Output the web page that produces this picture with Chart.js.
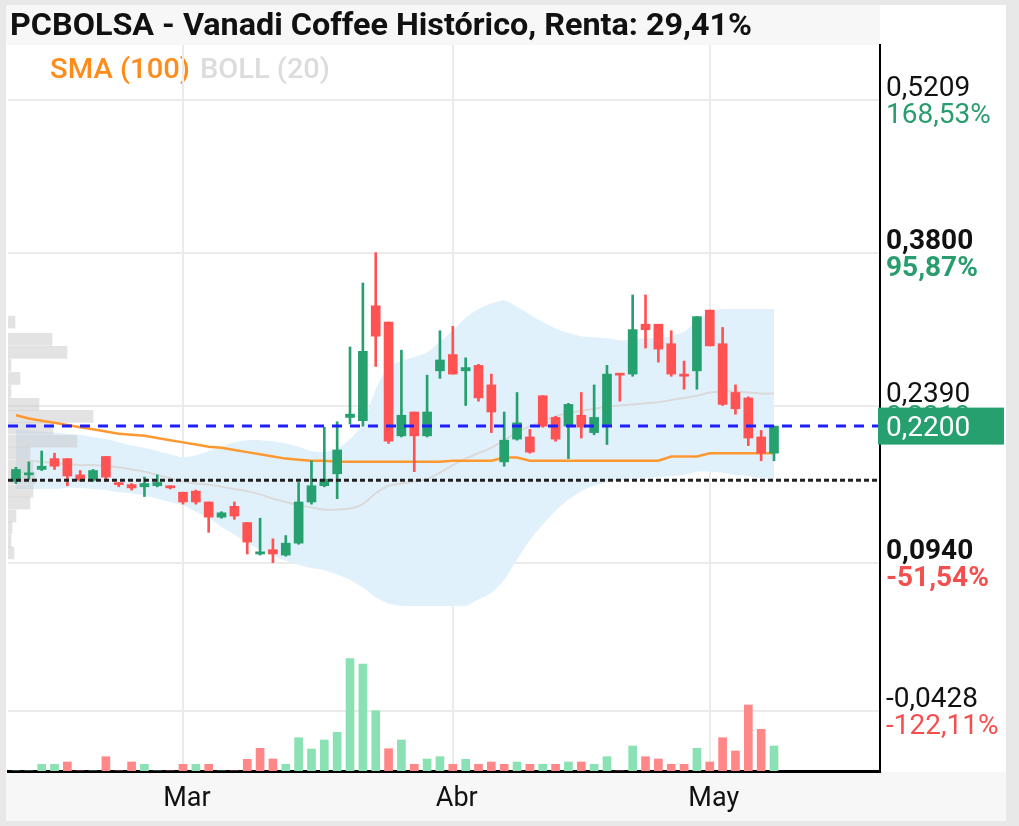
<!DOCTYPE html>
<html><head><meta charset="utf-8">
<script src="https://cdn.jsdelivr.net/npm/chart.js@4.4.1/dist/chart.umd.min.js"></script>
<style>html,body{margin:0;padding:0;background:#fff;overflow:hidden}canvas{display:block}</style>
</head><body>
<canvas id="c" width="1019" height="826"></canvas>
<script>
// ---------------- DATA ----------------
const titleText = 'PCBOLSA - Vanadi Coffee Histórico, Renta: 29,41%';
const dates = ['2025-02-12','2025-02-13','2025-02-14','2025-02-17','2025-02-18','2025-02-19','2025-02-20','2025-02-21','2025-02-24','2025-02-25','2025-02-26','2025-02-27','2025-02-28',
'2025-03-03','2025-03-04','2025-03-05','2025-03-06','2025-03-07','2025-03-10','2025-03-11','2025-03-12','2025-03-13','2025-03-14','2025-03-17','2025-03-18','2025-03-19','2025-03-20','2025-03-21','2025-03-24','2025-03-25','2025-03-26','2025-03-27','2025-03-28','2025-03-31',
'2025-04-01','2025-04-02','2025-04-03','2025-04-04','2025-04-07','2025-04-08','2025-04-09','2025-04-10','2025-04-11','2025-04-14','2025-04-15','2025-04-16','2025-04-17','2025-04-22','2025-04-23','2025-04-24','2025-04-25','2025-04-28','2025-04-29','2025-04-30',
'2025-05-02','2025-05-05','2025-05-06','2025-05-07','2025-05-08','2025-05-09'];
const monthNames = ['Ene','Feb','Mar','Abr','May','Jun','Jul','Ago','Sep','Oct','Nov','Dic'];

const openP  = [0.169,0.175,0.180,0.190,0.190,0.175,0.170,0.192,0.167,0.166, 0.164,0.165,0.165,0.159,0.160,0.150,0.136,0.146,0.131,0.102, 0.106,0.101,0.112,0.150,0.165,0.176,0.228,0.225,0.331,0.316, 0.211,0.233,0.211,0.271,0.286,0.271,0.276,0.258,0.187,0.208, 0.210,0.248,0.228,0.220,0.230,0.214,0.220,0.268,0.268,0.314, 0.314,0.296,0.268,0.271,0.327,0.296,0.251,0.246,0.210,0.195];
const highP  = [0.182,0.187,0.197,0.195,0.190,0.179,0.180,0.192,0.168,0.167, 0.173,0.175,0.165,0.159,0.161,0.150,0.141,0.150,0.131,0.135, 0.116,0.119,0.168,0.188,0.219,0.224,0.293,0.352,0.380,0.316, 0.290,0.233,0.267,0.308,0.312,0.283,0.277,0.268,0.233,0.251, 0.217,0.248,0.229,0.241,0.251,0.258,0.276,0.268,0.341,0.341, 0.314,0.308,0.280,0.321,0.327,0.311,0.258,0.247,0.216,0.220];
const lowP   = [0.167,0.171,0.179,0.180,0.165,0.169,0.169,0.169,0.164,0.161, 0.155,0.164,0.162,0.148,0.148,0.122,0.135,0.134,0.102,0.101, 0.094,0.100,0.111,0.148,0.164,0.153,0.222,0.220,0.275,0.204, 0.210,0.178,0.210,0.264,0.268,0.239,0.243,0.214,0.183,0.207, 0.195,0.219,0.206,0.190,0.209,0.212,0.203,0.243,0.266,0.292, 0.279,0.266,0.254,0.254,0.294,0.239,0.231,0.202,0.188,0.188];
const closeP = [0.180,0.176,0.183,0.183,0.174,0.170,0.179,0.173,0.166,0.163, 0.167,0.168,0.163,0.150,0.150,0.136,0.140,0.137,0.113,0.104, 0.102,0.112,0.150,0.165,0.171,0.198,0.231,0.289,0.303,0.206, 0.230,0.211,0.233,0.281,0.268,0.274,0.246,0.233,0.207,0.223, 0.196,0.220,0.208,0.240,0.219,0.228,0.268,0.267,0.309,0.309, 0.291,0.268,0.266,0.321,0.294,0.240,0.236,0.209,0.195,0.220];

// volume (miles de acciones) and direction of each volume bar (1 = up, 0 = down)
const volume = [0,0,67,67,90,0,0,143,0,90, 67,0,0,67,67,67,0,0,117,227, 120,67,333,220,310,387,1123,1070,603,223, 310,67,120,143,67,117,67,90,67,90, 67,67,67,90,90,67,143,0,250,143, 120,67,67,227,90,333,200,660,417,250];
const volumeUp = [1,1,1,1,0,0,1,0,0,0, 1,1,0,0,1,0,1,0,0,0, 0,1,1,1,1,1,1,1,1,0, 1,0,1,1,0,1,0,0,0,1, 0,1,0,1,0,1,1,0,1,0, 0,0,0,1,0,0,0,0,0,1];

const sma100 = [0.230,0.227,0.225,0.223,0.221,0.219,0.217,0.215,0.213,0.212, 0.211,0.209,0.207,0.205,0.203,0.201,0.200,0.198,0.196,0.194, 0.192,0.190,0.189,0.188,0.188,0.187,0.187,0.187,0.187,0.187, 0.187,0.187,0.187,0.187,0.188,0.188,0.188,0.188,0.191,0.191, 0.188,0.188,0.188,0.188,0.188,0.188,0.188,0.188,0.188,0.188, 0.188,0.192,0.192,0.192,0.195,0.195,0.195,0.195,0.195,0.195];
const bollUpper = [0.217,0.216,0.215,0.214,0.213,0.212,0.210,0.208,0.205,0.202, 0.200,0.197,0.194,0.191,0.193,0.197,0.201,0.205,0.207,0.207, 0.206,0.204,0.201,0.197,0.196,0.199,0.208,0.222,0.254,0.275, 0.280,0.284,0.288,0.298,0.308,0.320,0.328,0.333,0.336,0.330, 0.323,0.316,0.310,0.306,0.303,0.302,0.301,0.299,0.300,0.301, 0.301,0.303,0.307,0.317,0.326,0.328,0.328,0.328,0.328,0.328];
const bollMid = [0.189,0.188,0.187,0.186,0.185,0.184,0.184,0.183,0.182,0.180, 0.178,0.175,0.172,0.169,0.167,0.166,0.164,0.162,0.160,0.157, 0.153,0.150,0.147,0.145,0.143,0.143,0.144,0.148,0.158,0.165, 0.167,0.169,0.171,0.177,0.184,0.190,0.195,0.200,0.207,0.214, 0.220,0.224,0.229,0.232,0.234,0.236,0.238,0.239,0.240,0.241, 0.242,0.244,0.246,0.248,0.251,0.252,0.252,0.251,0.250,0.250];
const bollLower = [0.162,0.162,0.162,0.162,0.163,0.163,0.162,0.161,0.159,0.158, 0.156,0.153,0.150,0.147,0.141,0.135,0.127,0.120,0.112,0.106, 0.100,0.096,0.092,0.089,0.087,0.083,0.078,0.071,0.062,0.056, 0.054,0.054,0.054,0.054,0.054,0.054,0.060,0.066,0.078,0.097, 0.115,0.129,0.142,0.152,0.160,0.165,0.168,0.170,0.171,0.172, 0.173,0.174,0.175,0.178,0.178,0.177,0.175,0.174,0.172,0.171];

// volume-at-price profile (price level, volume)
const profilePrice = [0.316,0.300,0.288,0.276,0.264,0.252,0.240,0.229,0.218,0.206,0.195,0.183,0.172,0.160,0.149,0.137,0.126,0.114,0.103];
const profileVol   = [70,440,590,30,120,30,310,850,450,690,220,250,270,250,220,80,40,30,60];

const lastPrice = 0.22;
const entryPrice = 0.17;
const priceTicks = [0.5209, 0.3800, 0.2390, 0.0940, -0.0428];
const priceTickPct = ['168,53%', '95,87%', '', '-51,54%', '-122,11%'];
const priceTickBold = [false, true, false, true, false];
const hiddenLabel = '0,2310';

// ---------------- CHART ----------------
const GREEN = '#27a06f', RED = '#ff5252';
const VGREEN = '#8ae2b4', VRED = '#ff8787';
const idx = dates.map((d, i) => i);
const isUp = idx.map(i => closeP[i] >= openP[i]);
const monthTicks = [], monthTickLabels = [];
dates.forEach((d, i) => { if (i > 0 && d.slice(5,7) !== dates[i-1].slice(5,7)) { monthTicks.push(i); monthTickLabels.push(monthNames[parseInt(d.slice(5,7),10)-1]); } });
const X_MIN = -0.62, X_MAX = 67.25;

function drawFit(ctx, text, font, color, x, y, width) {
  ctx.save();
  ctx.font = font; ctx.fillStyle = color; ctx.textBaseline = 'middle'; ctx.textAlign = 'left';
  const w = ctx.measureText(text).width;
  ctx.translate(x, y); ctx.scale(width / w, 1);
  ctx.fillText(text, 0, 0);
  ctx.restore();
}
const fmt = v => v.toFixed(4).replace('.', ',');

const decor = {
  id: 'decor',
  beforeDraw(chart) {
    const ctx = chart.ctx;
    ctx.save();
    ctx.fillStyle = '#e8e8e8'; ctx.fillRect(0, 0, chart.width, chart.height);
    ctx.fillStyle = '#ffffff'; ctx.fillRect(6, 5, 1000, 816);
    ctx.fillStyle = '#f7f7f7'; ctx.fillRect(6, 5, 874, 40); ctx.fillRect(6, 772, 1000, 49);
    ctx.restore();
    drawFit(ctx, titleText, 'bold 32px Roboto', '#111', 10, 27, 742);
    drawFit(ctx, 'SMA (100)', '500 28px Roboto', '#ff8c1a', 50, 71, 140);
    drawFit(ctx, 'BOLL (20)', '500 28px Roboto', '#dcdcdc', 200, 71, 130);
  },
  afterDraw(chart) {
    const ctx = chart.ctx, ys = chart.scales.y, xs = chart.scales.x;
    ctx.save();
    ctx.textAlign = 'left'; ctx.textBaseline = 'alphabetic';
    priceTicks.forEach((v, k) => {
      const py = ys.getPixelForValue(v);
      ctx.font = (priceTickBold[k] ? 'bold ' : '') + '28px Roboto';
      ctx.fillStyle = '#111';
      ctx.fillText(fmt(v), 886, py - 4);
      const p = priceTickPct[k];
      if (p) { ctx.fillStyle = p.startsWith('-') ? '#f44f4f' : '#2a9d6f'; ctx.fillText(p, 886, py + 23); }
    });
    const py = ys.getPixelForValue(lastPrice);
    ctx.font = '28px Roboto'; ctx.fillStyle = '#2a9d6f';
    ctx.fillText(hiddenLabel, 886, py - 1);
    ctx.fillStyle = '#27a06f'; ctx.fillRect(878, py - 18.5, 126, 37);
    ctx.fillStyle = '#ffffff'; ctx.fillText(fmt(lastPrice), 886, py + 10);
    ctx.font = '27px Roboto'; ctx.fillStyle = '#111'; ctx.textAlign = 'center'; ctx.textBaseline = 'middle';
    monthTicks.forEach((t, k) => ctx.fillText(monthTickLabels[k], xs.getPixelForValue(t) + 4, 799));
    ctx.restore();
  }
};

new Chart(document.getElementById('c'), {
  type: 'bar',
  data: {
    datasets: [
      { type: 'line', label: 'Último', data: [{x: X_MIN, y: lastPrice}, {x: X_MAX, y: lastPrice}], borderColor: '#1e1eff', borderWidth: 3, borderDash: [10, 8], pointRadius: 0, xAxisID: 'x', yAxisID: 'y', order: 0 },
      { type: 'line', label: 'Compra', data: [{x: X_MIN, y: entryPrice}, {x: X_MAX, y: entryPrice}], borderColor: '#222', borderWidth: 3, borderDash: [5, 3], pointRadius: 0, xAxisID: 'x', yAxisID: 'y', order: 1 },
      { type: 'bar', label: 'Cuerpo', data: idx.map(i => ({x: i, y: [openP[i], closeP[i]]})), backgroundColor: isUp.map(u => u ? GREEN : RED), barThickness: 9, minBarLength: 2, grouped: false, xAxisID: 'x', yAxisID: 'y', order: 2 },
      { type: 'bar', label: 'Mecha', data: idx.map(i => ({x: i, y: [lowP[i], highP[i]]})), backgroundColor: isUp.map(u => u ? GREEN : RED), barThickness: 2, grouped: false, xAxisID: 'x', yAxisID: 'y', order: 3 },
      { type: 'line', label: 'SMA (100)', data: idx.map(i => ({x: i, y: sma100[i]})), borderColor: '#ff9830', borderWidth: 2.5, pointRadius: 0, xAxisID: 'x', yAxisID: 'y', order: 4 },
      { type: 'line', label: 'BOLL mid', data: idx.map(i => ({x: i, y: bollMid[i]})), borderColor: '#dadada', borderWidth: 2, pointRadius: 0, tension: 0.2, xAxisID: 'x', yAxisID: 'y', order: 5 },
      { type: 'bar', label: 'Perfil', indexAxis: 'y', data: profilePrice.map((p, k) => ({x: profileVol[k], y: p})), backgroundColor: 'rgba(200,200,200,0.5)', barThickness: 12, grouped: false, xAxisID: 'xProf', yAxisID: 'y', order: 6 },
      { type: 'line', label: 'BOLL sup', data: idx.map(i => ({x: i, y: bollUpper[i]})), borderColor: 'rgba(0,0,0,0)', borderWidth: 0, backgroundColor: '#e1f1fc', fill: '+1', pointRadius: 0, tension: 0.2, xAxisID: 'x', yAxisID: 'y', order: 7 },
      { type: 'line', label: 'BOLL inf', data: idx.map(i => ({x: i, y: bollLower[i]})), borderColor: 'rgba(0,0,0,0)', borderWidth: 0, fill: false, pointRadius: 0, tension: 0.2, xAxisID: 'x', yAxisID: 'y', order: 8 },
      { type: 'bar', label: 'Volumen', data: idx.map(i => ({x: i, y: volume[i]})), backgroundColor: volumeUp.map(u => u ? VGREEN : VRED), barThickness: 8, grouped: false, xAxisID: 'x', yAxisID: 'yVol', order: 9 }
    ]
  },
  options: {
    responsive: false, animation: false, devicePixelRatio: 1,
    layout: { padding: { top: 45, left: 8, right: 0, bottom: 0 } },
    plugins: { legend: { display: false }, tooltip: { enabled: false }, title: { display: false } },
    scales: {
      x: { type: 'linear', axis: 'x', position: 'bottom', min: X_MIN, max: X_MAX, offset: false,
           afterBuildTicks(s) { s.ticks = monthTicks.map(v => ({ value: v })); },
           afterFit(s) { s.height = 55; },
           grid: { color: '#ebebeb', lineWidth: 2, drawTicks: false, offset: false },
           border: { display: true, color: '#000', width: 3 },
           ticks: { display: false } },
      y: { type: 'linear', axis: 'y', position: 'right', min: -0.0982, max: 0.5716, offset: false,
           afterBuildTicks(s) { s.ticks = priceTicks.map(v => ({ value: v })); },
           afterFit(s) { s.width = 139; },
           grid: { color: '#ebebeb', lineWidth: 2, drawTicks: false, offset: false },
           border: { display: true, color: '#000', width: 2 },
           ticks: { display: false } },
      yVol: { type: 'linear', axis: 'y', position: 'left', display: false, min: 0, max: 7260, offset: false, grid: { offset: false } },
      xProf: { type: 'linear', axis: 'x', position: 'top', display: false, min: 0, max: 8720, offset: false, grid: { offset: false } }
    }
  },
  plugins: [decor]
});
</script>
</body></html>
